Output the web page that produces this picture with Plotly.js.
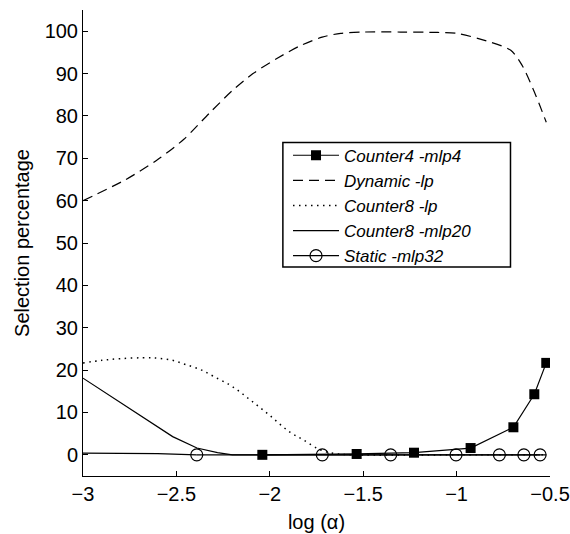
<!DOCTYPE html>
<html><head><meta charset="utf-8">
<script src="https://cdn.plot.ly/plotly-3.0.1.min.js"></script>
<style>html,body{margin:0;padding:0;background:#fff}#chart{width:570px;height:534px}</style>
</head><body><div id="chart"></div>
<script>
// Counter4 - mlp4 (filled squares)
const c4X = [-2.04, -1.535, -1.228, -0.925, -0.696, -0.584, -0.52];
const c4Y = [0.0, 0.2, 0.5, 1.6, 6.5, 14.3, 21.7];
// Dynamic - lp (dashed)
const dynX = [-3.0, -2.77, -2.6, -2.46, -2.32, -2.2, -2.09, -1.96, -1.84, -1.72, -1.62, -1.5, -1.3, -1.1, -1.0, -0.84, -0.71, -0.65, -0.59, -0.555, -0.52];
const dynY = [60.0, 65.0, 69.7, 74.5, 80.8, 86.0, 90.0, 93.6, 96.5, 98.6, 99.5, 99.8, 99.8, 99.7, 99.5, 97.7, 95.5, 92.0, 86.3, 82.5, 78.5];
// Counter8 - lp (dotted)
const c8lpX = [-3.0, -2.9, -2.8, -2.68, -2.6, -2.52, -2.45, -2.37, -2.3, -2.2, -2.1, -2.0, -1.9, -1.82, -1.73, -1.65, -1.55, -1.0, -0.52];
const c8lpY = [21.7, 22.3, 22.7, 22.9, 22.8, 22.3, 21.3, 20.1, 18.5, 16.1, 12.8, 9.3, 5.6, 3.5, 1.2, 0.3, 0.0, 0.0, 0.0];
// Counter8 - mlp20 (solid)
const c8mX = [-3.0, -2.52, -2.39, -2.28, -2.2, -1.5, -1.0, -0.52];
const c8mY = [18.1, 4.3, 1.6, 0.5, 0.0, 0.0, 0.0, 0.0];
// Static - mlp32 (open circles)
const stX = [-2.391, -1.719, -1.353, -1.003, -0.771, -0.64, -0.553];
const stY = [0, 0, 0, 0, 0, 0, 0];
// Static - mlp32 leading segment (no markers)
const stLeadX = [-3.0, -2.6, -2.391];
const stLeadY = [0.4, 0.3, 0.0];
// Axis ticks
const xTicks = [-3, -2.5, -2, -1.5, -1, -0.5];
const xTickText = ['\u22123', '\u22122.5', '\u22122', '\u22121.5', '\u22121', '\u22120.5'];
const yTicks = [0, 10, 20, 30, 40, 50, 60, 70, 80, 90, 100];

const black = '#000';
const traces = [
  {x: c4X, y: c4Y, name: 'Counter4 -mlp4', mode: 'lines+markers',
   line: {color: black, width: 1.2}, marker: {symbol: 'square', size: 10, color: black}},
  {x: dynX, y: dynY, name: 'Dynamic -lp', mode: 'lines', line: {color: black, width: 1.2, dash: '10px,6px', shape: 'spline', smoothing: 0.8}},
  {x: c8lpX, y: c8lpY, name: 'Counter8 -lp', mode: 'lines', line: {color: black, width: 1.5, dash: '1.5px,4.5px', shape: 'spline'}},
  {x: c8mX, y: c8mY, name: 'Counter8 -mlp20', mode: 'lines', line: {color: black, width: 1.2}},
  {x: stLeadX, y: stLeadY, name: 'Static lead', mode: 'lines', showlegend: false, line: {color: black, width: 1.2}},
  {x: stX, y: stY, name: 'Static -mlp32', mode: 'lines+markers',
   line: {color: black, width: 1.2}, marker: {symbol: 'circle-open', size: 12, color: black, line: {width: 1.2, color: black}}}
];

const fontFam = '"Liberation Sans", Arial, Helvetica, sans-serif';
const layout = {
  width: 570, height: 534,
  margin: {l: 83, r: 20, t: 10, b: 58},
  paper_bgcolor: '#fff', plot_bgcolor: '#fff',
  showlegend: true,
  font: {family: fontFam, size: 20, color: black},
  xaxis: {
    range: [-3, -0.5], tickvals: xTicks, ticktext: xTickText,
    ticks: 'inside', ticklen: 5, tickwidth: 1, tickcolor: black,
    showline: true, linecolor: black, linewidth: 1, mirror: false,
    showgrid: false, zeroline: false,
    tickfont: {family: fontFam, size: 20},
    title: {text: 'log (\u03b1)', font: {family: fontFam, size: 20}, standoff: 10}
  },
  yaxis: {
    range: [-5, 105], tickvals: yTicks,
    ticks: 'inside', ticklen: 5, tickwidth: 1, tickcolor: black,
    showline: true, linecolor: black, linewidth: 1, mirror: false,
    showgrid: false, zeroline: false,
    tickfont: {family: fontFam, size: 20},
    title: {text: 'Selection percentage', font: {family: fontFam, size: 20}, standoff: 9}
  },
  shapes: [{
    type: 'rect', xref: 'paper', yref: 'paper', layer: 'above',
    x0: 0.428, x1: 0.9154, y0: 0.4485, y1: 0.7157,
    fillcolor: '#fff', line: {color: black, width: 1.5}
  }],
  legend: {
    x: 0.439, y: 0.726, xanchor: 'left', yanchor: 'top',
    bgcolor: 'rgba(0,0,0,0)', borderwidth: 0,
    font: {family: fontFam, size: 17, style: 'italic', color: black},
    itemwidth: 46, tracegroupgap: 0
  }
};
Plotly.newPlot('chart', traces, layout, {displayModeBar: false, staticPlot: true});
</script>
</body></html>
